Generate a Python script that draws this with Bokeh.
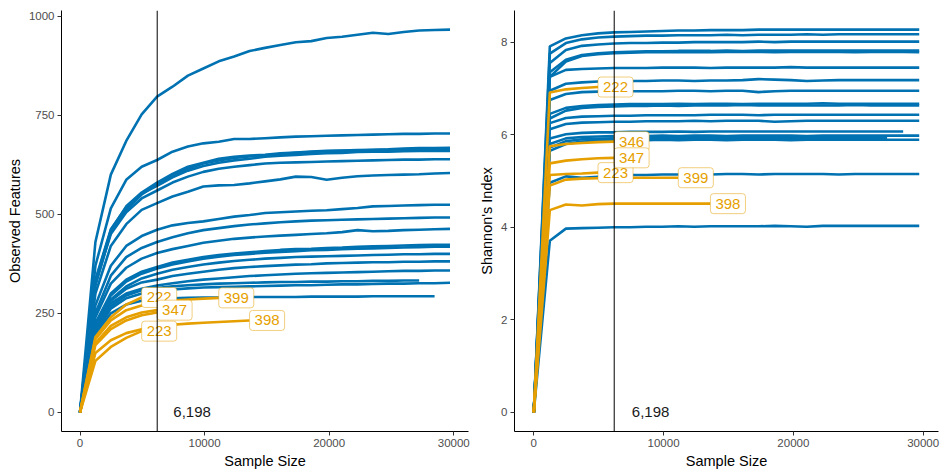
from bokeh.plotting import figure
from bokeh.layouts import row
from bokeh.models import ColumnDataSource, Span, Range1d, FixedTicker, NumeralTickFormatter
from bokeh.embed import file_html
from bokeh.resources import INLINE
from bokeh.core.properties import value

# ---------------- data ----------------
depths = [0, 1237, 2475, 3712, 4950, 6187, 7425, 8662, 9900, 11137, 12375, 13612,
          14850, 16087, 17325, 18562, 19800, 21037, 22275, 23512, 24750, 25987,
          27225, 28462, 29700]
rarefy_depth = 6198
rarefy_label = "6,198"

orange_ids = ["222", "223", "346", "347", "398", "399"]
observed_labeled = ["222", "223", "347", "398", "399"]
shannon_labeled = ["222", "223", "346", "347", "398", "399"]

observed_blue = [
    [0, 430, 600, 685, 752, 797, 822, 850, 868, 886, 898, 912, 920, 927, 934, 937, 945, 948, 953, 958, 955, 960, 964, 965, 966],
    [0, 370, 515, 587, 620, 637, 658, 671, 679, 683, 690, 690, 692, 694, 696, 697, 698, 699, 700, 701, 702, 703, 703, 704, 704],
    [0, 330, 460, 520, 555, 580, 602, 620, 630, 640, 645, 648, 650, 654, 656, 658, 660, 661, 662, 663, 664, 666, 667, 667, 668],
    [0, 320, 455, 512, 550, 575, 598, 615, 628, 636, 642, 646, 649, 652, 655, 657, 659, 660, 661, 662, 663, 664, 664, 665, 665],
    [0, 335, 462, 518, 552, 572, 593, 610, 622, 630, 636, 640, 645, 648, 650, 652, 654, 655, 657, 658, 658, 659, 660, 660, 660],
    [0, 325, 450, 505, 540, 560, 580, 595, 607, 615, 620, 624, 628, 630, 631, 632, 633, 634, 635, 636, 637, 638, 638, 639, 639],
    [0, 300, 420, 475, 511, 528, 545, 557, 570, 573, 574, 578, 583, 588, 595, 594, 587, 592, 596, 598, 599, 600, 601, 603, 604],
    [0, 270, 370, 420, 445, 461, 472, 478, 482, 488, 494, 498, 503, 505, 507, 509, 510, 513, 516, 520, 521, 522, 523, 524, 524],
    [0, 250, 345, 392, 415, 430, 442, 452, 460, 465, 470, 474, 477, 480, 482, 484, 485, 486, 487, 488, 489, 490, 491, 492, 492],
    [0, 240, 325, 365, 388, 402, 412, 420, 428, 433, 438, 441, 444, 446, 448, 450, 452, 455, 460, 457, 458, 460, 461, 462, 463],
    [0, 225, 300, 335, 355, 367, 378, 385, 392, 397, 401, 404, 407, 410, 412, 413, 415, 416, 418, 419, 420, 421, 422, 423, 423],
    [0, 220, 295, 330, 350, 363, 373, 381, 388, 393, 397, 400, 403, 405, 407, 409, 410, 412, 413, 414, 415, 416, 417, 418, 418],
    [0, 215, 285, 318, 338, 350, 360, 367, 373, 378, 382, 385, 388, 390, 392, 393, 394, 395, 396, 397, 398, 399, 399, 400, 400],
    [0, 215, 282, 312, 328, 335, 344, 350, 355, 360, 364, 367, 369, 371, 373, 374, 376, 377, 378, 379, 379, 380, 380, 381, 381],
    [0, 210, 275, 300, 312, 320, 326, 331, 335, 338, 341, 344, 346, 348, 350, 351, 352, 353, 354, 355, 356, 357, 357, 358, 358],
    [0, 205, 268, 295, 308, 314, 318, 321, 323, 325, 326, 327, 328, 329, 329, 330, 330, 331, 331, 332, 332, 333, 333],
    [0, 200, 262, 288, 300, 306, 310, 313, 315, 316, 317, 318, 319, 320, 321, 321, 322, 323, 323, 324, 325, 325, 326, 326, 327],
    [0, 195, 250, 272, 282, 287, 288, 289, 290, 290, 290, 291, 291, 291, 291, 292, 292, 292, 292, 293, 293, 293, 293, 293],
]

observed_orange = [
    [0, 190, 240, 272, 290],
    [0, 130, 165, 188, 205],
    [0, 170, 210, 232, 245, 252],
    [0, 175, 218, 240, 252, 258],
    [0, 150, 182, 200, 210, 217, 221, 224, 226, 228, 230, 232],
    [0, 185, 232, 258, 270, 278, 282, 285, 287, 289],
]

shannon_blue = [
    [0, 7.91, 8.08, 8.15, 8.19, 8.21, 8.22, 8.23, 8.24, 8.25, 8.25, 8.26, 8.26, 8.26, 8.27, 8.27, 8.27, 8.27, 8.27, 8.27, 8.27, 8.27, 8.27, 8.27, 8.27],
    [0, 7.75, 7.98, 8.06, 8.10, 8.12, 8.13, 8.14, 8.14, 8.15, 8.15, 8.15, 8.16, 8.15, 8.16, 8.16, 8.16, 8.17, 8.16, 8.17, 8.17, 8.17, 8.17, 8.17, 8.17],
    [0, 7.55, 7.83, 7.92, 7.95, 7.97, 7.98, 7.98, 7.99, 7.99, 8.00, 8.00, 8.00, 8.00, 8.01, 8.00, 8.01, 8.01, 8.01, 8.01, 8.01, 8.01, 8.01, 8.01, 8.01],
    [0, 7.35, 7.62, 7.72, 7.76, 7.78, 7.79, 7.80, 7.80, 7.81, 7.81, 7.81, 7.82, 7.81, 7.82, 7.82, 7.82, 7.82, 7.82, 7.82, 7.82, 7.82, 7.82, 7.82, 7.82],
    [0, 7.25, 7.58, 7.70, 7.74, 7.76, 7.77, 7.78, 7.78, 7.78, 7.79, 7.78, 7.79, 7.79, 7.79, 7.78, 7.79, 7.79, 7.79, 7.79, 7.78, 7.79, 7.79, 7.79, 7.78],
    [0, 7.25, 7.40, 7.42, 7.43, 7.44, 7.44, 7.44, 7.45, 7.45, 7.45, 7.44, 7.45, 7.45, 7.45, 7.45, 7.46, 7.45, 7.45, 7.45, 7.45, 7.45, 7.45, 7.45, 7.45],
    [0, 6.95, 7.10, 7.13, 7.15, 7.15, 7.16, 7.16, 7.17, 7.17, 7.16, 7.17, 7.17, 7.18, 7.20, 7.19, 7.18, 7.16, 7.17, 7.18, 7.18, 7.18, 7.18, 7.18, 7.18],
    [0, 6.75, 6.88, 6.92, 6.93, 6.93, 6.94, 6.94, 6.94, 6.95, 6.95, 6.94, 6.95, 6.95, 6.92, 6.94, 6.95, 6.95, 6.95, 6.95, 6.95, 6.95, 6.95, 6.95, 6.95],
    [0, 6.45, 6.58, 6.62, 6.64, 6.65, 6.66, 6.66, 6.66, 6.67, 6.66, 6.67, 6.67, 6.66, 6.67, 6.67, 6.67, 6.67, 6.68, 6.67, 6.67, 6.67, 6.67, 6.67, 6.67],
    [0, 6.35, 6.52, 6.58, 6.60, 6.61, 6.62, 6.62, 6.63, 6.62, 6.63, 6.63, 6.63, 6.64, 6.63, 6.63, 6.63, 6.63, 6.63, 6.63, 6.64, 6.63, 6.63, 6.63, 6.63],
    [0, 6.25, 6.36, 6.39, 6.40, 6.41, 6.41, 6.42, 6.42, 6.42, 6.42, 6.43, 6.43, 6.43, 6.42, 6.43, 6.43, 6.43, 6.43, 6.43, 6.43, 6.43, 6.43, 6.43, 6.43],
    [0, 6.12, 6.23, 6.26, 6.27, 6.28, 6.28, 6.29, 6.29, 6.29, 6.30, 6.29, 6.30, 6.30, 6.30, 6.28, 6.29, 6.30, 6.30, 6.30, 6.30, 6.30, 6.30, 6.30, 6.30],
    [0, 5.92, 6.01, 6.04, 6.05, 6.05, 6.06, 6.06, 6.06, 6.07, 6.06, 6.07, 6.07, 6.07, 6.07, 6.07, 6.07, 6.07, 6.07, 6.07, 6.07, 6.07, 6.07, 6.07],
    [0, 5.80, 5.92, 5.95, 5.96, 5.97, 5.97, 5.97, 5.98, 5.97, 5.98, 5.98, 5.97, 5.98, 5.98, 5.98, 5.98, 5.97, 5.98, 5.98, 5.98, 5.98, 5.98, 5.98, 5.98],
    [0, 5.72, 5.86, 5.90, 5.91, 5.92, 5.92, 5.93, 5.92, 5.93, 5.93, 5.92, 5.93, 5.93, 5.93, 5.93, 5.93, 5.93, 5.94, 5.93, 5.93, 5.93, 5.93],
    [0, 5.65, 5.80, 5.85, 5.87, 5.88, 5.88, 5.88, 5.89, 5.88, 5.89, 5.89, 5.88, 5.89, 5.89, 5.89, 5.88, 5.89, 5.89, 5.89, 5.89, 5.89, 5.89, 5.89, 5.89],
    [0, 4.96, 5.10, 5.07, 5.09, 5.11, 5.13, 5.13, 5.14, 5.14, 5.15, 5.14, 5.15, 5.15, 5.14, 5.15, 5.15, 5.15, 5.15, 5.14, 5.15, 5.15, 5.15, 5.15, 5.15],
    [0, 3.71, 3.97, 3.98, 3.99, 4.00, 4.00, 4.01, 4.01, 4.02, 4.01, 4.02, 4.02, 4.02, 4.02, 4.03, 4.02, 4.01, 4.03, 4.03, 4.03, 4.03, 4.03, 4.03, 4.03],
]

shannon_orange = [
    [0, 6.91, 6.98, 7.01, 7.03],
    [0, 5.13, 5.15, 5.16, 5.18],
    [0, 5.75, 5.80, 5.82, 5.84, 5.85],
    [0, 5.38, 5.44, 5.47, 5.49, 5.50],
    [0, 4.37, 4.49, 4.47, 4.50, 4.51, 4.51, 4.51, 4.51, 4.51, 4.51, 4.51],
    [0, 4.90, 5.03, 5.05, 5.06, 5.07, 5.07, 5.07, 5.07, 5.07],
]

x_ticks = [0, 10000, 20000, 30000]
obs_ticks = [0, 250, 500, 750, 1000]
sha_ticks = [0, 2, 4, 6, 8]

# ---------------- style ----------------
BLUE = "#0072B2"
ORANGE = "#E69F00"
FONT = "Liberation Sans"
LW = 2.6


def make_panel(blue, orange, labeled, ylabel, yticks, width, bl, br):
    all_y = [v for s in blue + orange for v in s]
    xmax = max(depths)
    ymax = max(all_y)
    xpad = 0.05 * xmax
    ypad = 0.05 * ymax
    p = figure(width=width, height=471, output_backend="svg", toolbar_location=None,
               x_range=Range1d(-xpad, xmax + xpad), y_range=Range1d(-ypad, ymax + ypad),
               min_border_left=bl, min_border_right=br, min_border_top=10, min_border_bottom=38)
    p.outline_line_color = None
    p.xgrid.visible = False
    p.ygrid.visible = False
    p.background_fill_color = "white"
    p.border_fill_color = "white"

    bsrc = ColumnDataSource(dict(xs=[depths[:len(s)] for s in blue], ys=blue))
    p.multi_line("xs", "ys", source=bsrc, line_color=BLUE, line_width=LW)
    osrc = ColumnDataSource(dict(xs=[depths[:len(s)] for s in orange], ys=orange))
    p.multi_line("xs", "ys", source=osrc, line_color=ORANGE, line_width=LW)

    lx, ly, lt = [], [], []
    for sid, s in zip(orange_ids, orange):
        if sid in labeled:
            lx.append(depths[len(s) - 1])
            ly.append(s[-1])
            lt.append(sid)
    lsrc = ColumnDataSource(dict(x=lx, y=ly, t=lt))
    p.text("x", "y", text="t", source=lsrc, text_color=ORANGE, text_font=value(FONT),
           text_font_size="15px", text_align="left", text_baseline="middle",
           background_fill_color="white", background_fill_alpha=1.0,
           border_line_color=ORANGE, border_line_alpha=0.5, border_line_width=1,
           padding=5, border_radius=3)

    p.text(x=[9000], y=[0], text=[rarefy_label], text_color="#1a1a1a", text_font=value(FONT),
           text_font_size="15px", text_align="center", text_baseline="middle")

    p.add_layout(Span(location=rarefy_depth, dimension="height", line_color="black", line_width=1))

    for ax in (p.xaxis[0], p.yaxis[0]):
        ax.axis_line_color = "black"
        ax.axis_line_width = 1
        ax.major_tick_line_color = "#333333"
        ax.major_tick_in = 0
        ax.major_tick_out = 4
        ax.minor_tick_line_color = None
        ax.major_label_text_color = "#4D4D4D"
        ax.major_label_text_font = FONT
        ax.major_label_text_font_size = "11.5px"
        ax.axis_label_text_font = FONT
        ax.axis_label_text_font_size = "14.5px"
        ax.axis_label_text_font_style = "normal"
        ax.axis_label_text_color = "black"
        ax.major_label_standoff = 3
        ax.axis_label_standoff = 3
    p.xaxis.ticker = FixedTicker(ticks=x_ticks)
    p.xaxis.formatter = NumeralTickFormatter(format="0")
    p.yaxis.ticker = FixedTicker(ticks=yticks)
    p.xaxis.axis_label = "Sample Size"
    p.yaxis.axis_label = ylabel
    return p


p1 = make_panel(observed_blue, observed_orange, observed_labeled, "Observed Features", obs_ticks, 471, 61, 3)
p2 = make_panel(shannon_blue, shannon_orange, shannon_labeled, "Shannon's Index", sha_ticks, 471, 43, 4)

layout = row(p1, p2)
open("out.html", "w").write(file_html(layout, INLINE))
